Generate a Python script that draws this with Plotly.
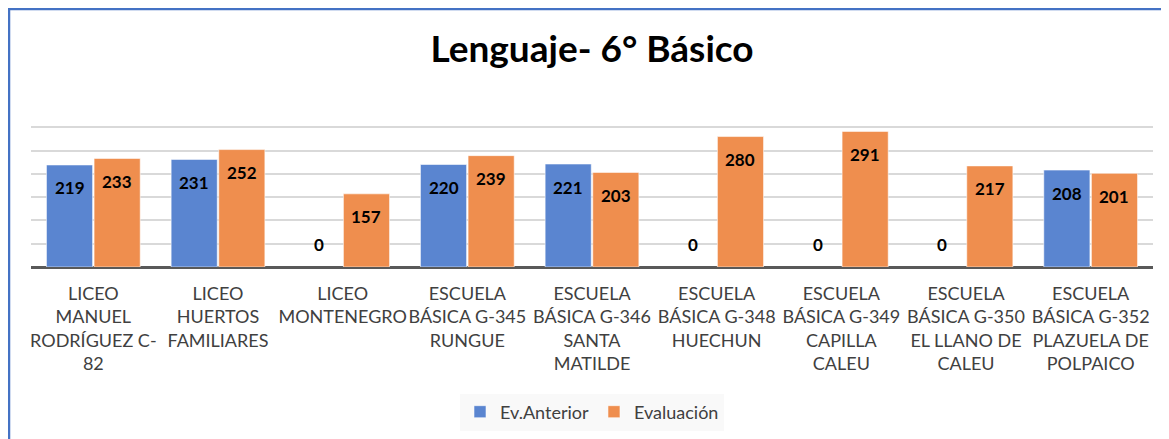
import plotly.graph_objects as go

categories = [
    "LICEO<br>MANUEL<br>RODRÍGUEZ C-<br>82",
    "LICEO<br>HUERTOS<br>FAMILIARES",
    "LICEO<br>MONTENEGRO",
    "ESCUELA<br>BÁSICA G-345<br>RUNGUE",
    "ESCUELA<br>BÁSICA G-346<br>SANTA<br>MATILDE",
    "ESCUELA<br>BÁSICA G-348<br>HUECHUN",
    "ESCUELA<br>BÁSICA G-349<br>CAPILLA<br>CALEU",
    "ESCUELA<br>BÁSICA G-350<br>EL LLANO DE<br>CALEU",
    "ESCUELA<br>BÁSICA G-352<br>PLAZUELA DE<br>POLPAICO",
]
ev_anterior = [219, 231, 0, 220, 221, 0, 0, 0, 208]
evaluacion = [233, 252, 157, 239, 203, 280, 291, 217, 201]
series_names = ["Ev.Anterior", "Evaluación"]

# page body adds an 8px offset; work in screenshot pixels and subtract it
OFF = 8
W, H = 1169 - OFF, 439 - OFF
L = 31 - OFF
R = 16
T = 103 - OFF
B = H - (267 - OFF)
plot_w = W - L - R
plot_h = H - T - B

BLUE = "#5A85D0"
ORANGE = "#EF8E4E"
bar_w = 0.37

idx = list(range(len(categories)))
x_blue = [i - bar_w / 2 - 0.006 for i in idx]
x_orange = [i + bar_w / 2 + 0.006 for i in idx]

def outline(vals):
    return dict(color="rgba(255,255,255,0.55)", width=[1 if v > 0 else 0 for v in vals])

fig = go.Figure()
fig.add_trace(go.Bar(x=x_blue, y=ev_anterior, width=bar_w, name=series_names[0],
                     marker=dict(color=BLUE, line=outline(ev_anterior))))
fig.add_trace(go.Bar(x=x_orange, y=evaluacion, width=bar_w, name=series_names[1],
                     marker=dict(color=ORANGE, line=outline(evaluacion))))

annos = []
for xs, vals in ((x_blue, ev_anterior), (x_orange, evaluacion)):
    for x, v in zip(xs, vals):
        annos.append(dict(x=x, y=v, xref="x", yref="y", text=f"<b>{v}</b>", showarrow=False,
                          yshift=(-23 if v > 0 else 23),
                          font=dict(family="Lato", size=17, color="#000000")))

def px_x(p):
    return (p - OFF - L) / plot_w

def px_y(p):
    return (H - B - (p - OFF)) / plot_h

shapes = [dict(type="rect", xref="paper", yref="paper",
               x0=px_x(9), x1=px_x(1169 + 50), y0=px_y(439 + 50), y1=px_y(9),
               line=dict(color="#4472C4", width=2.5), fillcolor="rgba(0,0,0,0)", layer="above")]

fig.update_layout(
    width=W, height=H,
    margin=dict(l=L, r=R, t=T, b=B, pad=0, autoexpand=False),
    paper_bgcolor="white", plot_bgcolor="white",
    barmode="overlay",
    title=dict(text="<b>Lenguaje- 6° Básico</b>", x=0.5, xref="paper", y=1 - (49 - OFF) / H,
               yref="container", yanchor="middle", xanchor="center",
               font=dict(family="Lato", size=37, color="#000000")),
    showlegend=True,
    legend=dict(orientation="h", x=0.5, xanchor="center", y=px_y(412), yanchor="middle",
                bgcolor="#F9F9F9", font=dict(family="Lato", size=18, color="#404040"),
                itemwidth=30, traceorder="normal"),
    annotations=annos,
    shapes=shapes,
    xaxis=dict(range=[-0.5, len(categories) - 0.5], tickmode="array", tickvals=idx,
               ticktext=categories, showgrid=False, zeroline=False, showline=False,
               ticks="", tickangle=0, tickfont=dict(family="Lato", size=18, color="#404040"),
               ticklabelstandoff=14, automargin=False, fixedrange=True),
    yaxis=dict(range=[0, 352], tickmode="array", tickvals=[0, 50, 100, 150, 200, 250, 300, 350],
               showticklabels=False, showgrid=True,
               gridcolor="#D9D9D9", gridwidth=1.5, zeroline=True, zerolinecolor="#595959",
               zerolinewidth=2.5, showline=False, automargin=False, fixedrange=True),
)

fig.write_html("out.html")
